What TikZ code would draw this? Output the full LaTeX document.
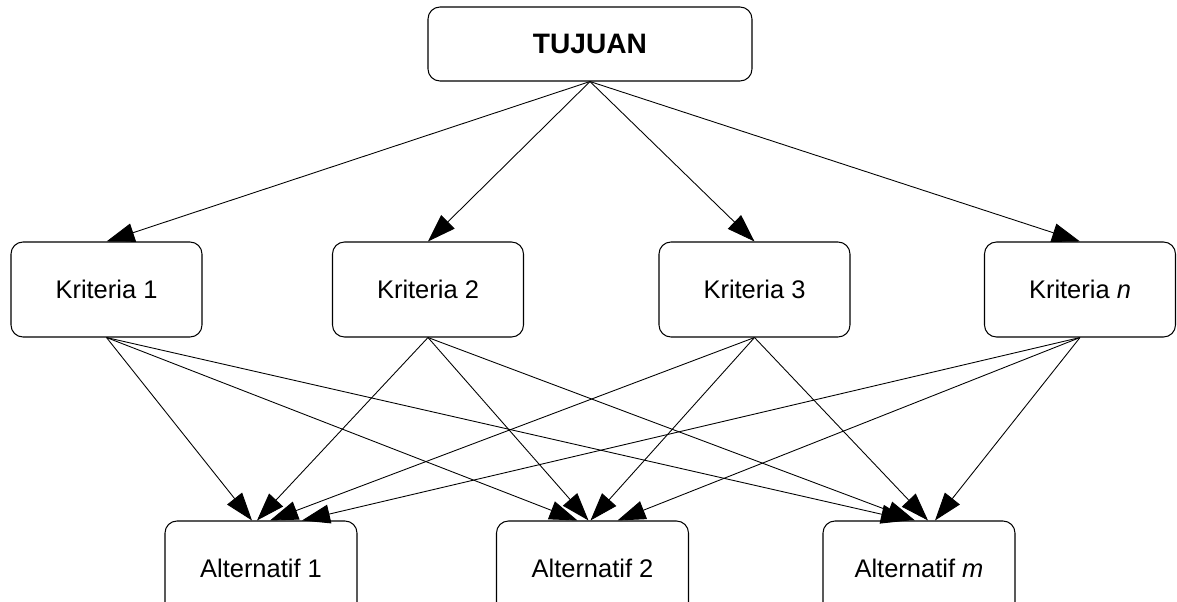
\documentclass[tikz,border=0pt]{standalone}
\usepackage{fontspec}
\setmainfont{Liberation Sans}
\usetikzlibrary{arrows.meta}
\tikzset{
  goalbox/.style  = {draw, rounded corners=0.24cm, line width=0.6pt,
                     minimum width=6.48cm, minimum height=1.48cm,
                     font=\fontsize{16}{19}\selectfont\bfseries},
  critbox/.style  = {draw, rounded corners=0.24cm, line width=0.6pt,
                     minimum width=3.82cm, minimum height=1.9cm,
                     font=\fontsize{14.5}{17}\selectfont},
  altbox/.style   = {draw, rounded corners=0.24cm, line width=0.6pt,
                     minimum width=3.84cm, minimum height=1.9cm,
                     font=\fontsize{14.5}{17}\selectfont},
  link/.style     = {-{Triangle[length=0.56cm, width=0.38cm]}, line width=0.5pt},
}

\begin{document}
\begin{tikzpicture}
  \useasboundingbox (0,0) rectangle (23.54,-12.04);

  \node[goalbox] (goal) at (11.8,-0.88) {TUJUAN};

  \node[critbox] (k1) at (2.13,-5.79)  {Kriteria 1};
  \node[critbox] (k2) at (8.56,-5.79)  {Kriteria 2};
  \node[critbox] (k3) at (15.09,-5.79) {Kriteria 3};
  \node[critbox] (k4) at (21.6,-5.79)  {Kriteria \textit{n}};

  \node[altbox] (a1) at (5.22,-11.37)  {Alternatif 1};
  \node[altbox] (a2) at (11.85,-11.37) {Alternatif 2};
  \node[altbox] (a3) at (18.38,-11.37) {Alternatif \textit{m}};

  % tujuan ke kriteria
  \draw[link] (goal.south) -- (k1.north);
  \draw[link] (goal.south) -- (k2.north);
  \draw[link] (goal.south) -- (k3.north);
  \draw[link] (goal.south) -- (k4.north);

  % kriteria ke alternatif
  \draw[link] (k1.south) -- ([xshift=-0.18cm]a1.north);
  \draw[link] (k1.south) -- ([xshift=-0.30cm]a2.north);
  \draw[link] (k1.south) -- ([xshift=-0.20cm]a3.north);

  \draw[link] (k2.south) -- ([xshift=-0.08cm]a1.north);
  \draw[link] (k2.south) -- ([xshift=-0.08cm]a2.north);
  \draw[link] (k2.south) -- ([xshift=-0.08cm]a3.north);

  \draw[link] (k3.south) -- ([xshift=0.18cm]a1.north);
  \draw[link] (k3.south) -- ([xshift=-0.04cm]a2.north);
  \draw[link] (k3.south) -- ([xshift=0.18cm]a3.north);

  \draw[link] (k4.south) -- ([xshift=0.82cm]a1.north);
  \draw[link] (k4.south) -- ([xshift=0.50cm]a2.north);
  \draw[link] (k4.south) -- ([xshift=0.32cm]a3.north);
\end{tikzpicture}
\end{document}
